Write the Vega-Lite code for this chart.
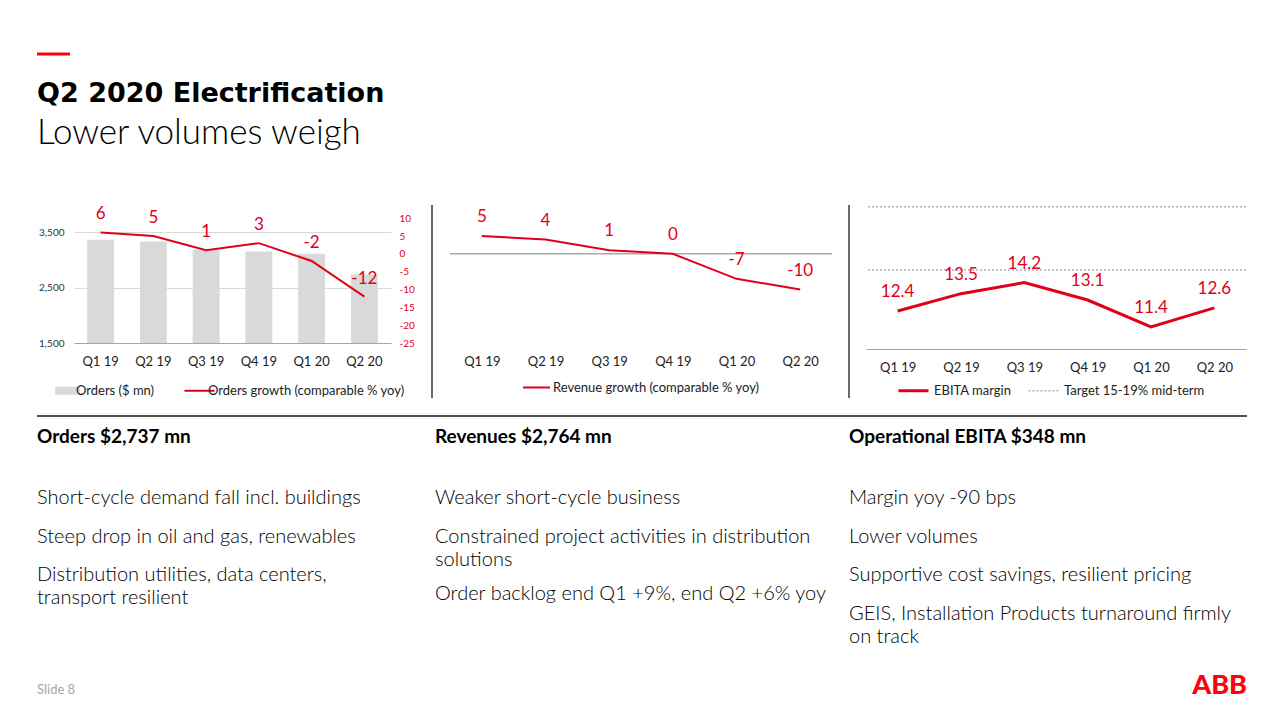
{
  "$schema": "https://vega.github.io/schema/vega-lite/v6.json",
  "padding": {"left": 35, "top": 52, "right": 0, "bottom": 0},
  "background": "white",
  "config": {
    "font": "Lato",
    "view": {"stroke": null},
    "axis": {"labelFont": "Lato", "titleFont": "Lato", "ticks": false, "domain": false, "grid": false, "title": null},
    "legend": {"labelFont": "Lato", "labelLimit": 400, "layout": {"anchor": "middle", "bounds": "flush"}},
    "title": {"font": "Lato", "subtitleFont": "Lato"}
  },
  "datasets": {
    "quarters": [
      {"q": "Q1 19", "orders": 3368, "growth": 6, "revenue": 5, "ebita": 12.4},
      {"q": "Q2 19", "orders": 3337, "growth": 5, "revenue": 4, "ebita": 13.5},
      {"q": "Q3 19", "orders": 3187, "growth": 1, "revenue": 1, "ebita": 14.2},
      {"q": "Q4 19", "orders": 3156, "growth": 3, "revenue": 0, "ebita": 13.1},
      {"q": "Q1 20", "orders": 3115, "growth": -2, "revenue": -7, "ebita": 11.4},
      {"q": "Q2 20", "orders": 2737, "growth": -12, "revenue": -10, "ebita": 12.6}
    ],
    "target": [{"t": 15}, {"t": 19}],
    "bullets": [
      {"col": 1, "slot": 0, "text": "Short-cycle demand fall incl. buildings"},
      {"col": 1, "slot": 2, "text": "Steep drop in oil and gas, renewables"},
      {"col": 1, "slot": 4, "text": "Distribution utilities, data centers,\ntransport resilient"},
      {"col": 2, "slot": 0, "text": "Weaker short-cycle business"},
      {"col": 2, "slot": 2, "text": "Constrained project activities in distribution\nsolutions"},
      {"col": 2, "slot": 5, "text": "Order backlog end Q1 +9%, end Q2 +6% yoy"},
      {"col": 3, "slot": 0, "text": "Margin yoy -90 bps"},
      {"col": 3, "slot": 2, "text": "Lower volumes"},
      {"col": 3, "slot": 4, "text": "Supportive cost savings, resilient pricing"},
      {"col": 3, "slot": 6, "text": "GEIS, Installation Products turnaround firmly\non track"}
    ]
  },
  "columns": 1,
  "align": "none",
  "spacing": 24,
  "concat": [
    {
      "width": 33, "height": 2,
      "data": {"values": [{"s": 0}]},
      "mark": {"type": "rule", "color": "#ff000f", "strokeWidth": 3},
      "encoding": {"y": {"field": "s", "type": "quantitative", "scale": {"domain": [0, 1]}, "axis": null}}
    },
    {
      "columns": 1,
      "align": "none",
      "spacing": 11,
      "concat": [
        {
          "title": {
            "text": "Q2 2020 Electrification",
            "subtitle": "Lower volumes weigh",
            "anchor": "start",
            "font": "DejaVu Sans",
            "fontSize": 27, "fontWeight": "bold", "color": "#000000",
            "subtitleFont": "Lato",
            "subtitleFontSize": 35, "subtitleFontWeight": 300, "subtitleColor": "#000000",
            "subtitlePadding": 8,
            "offset": 52
          },
          "spacing": 0,
          "resolve": {"scale": {"color": "independent"}},
          "hconcat": [
            {
              "width": 1, "height": 138,
              "data": {"values": []},
              "mark": {"type": "text"}
            },
            {
              "width": 317, "height": 138,
              "data": {"name": "quarters"},
              "layer": [
                {
                  "mark": {"type": "bar"},
                  "encoding": {
                    "x": {"field": "q", "type": "nominal", "sort": null,
                          "scale": {"paddingInner": 0.49, "paddingOuter": 0.25},
                          "axis": {"labelAngle": 0, "labelFontSize": 13, "labelColor": "#222222", "labelPadding": 12, "domain": true, "domainColor": "#a6a6a6"}},
                    "y": {"field": "orders", "type": "quantitative",
                          "scale": {"domain": [1500, 3995], "nice": false, "zero": false},
                          "axis": {"values": [1500, 2500, 3500], "labelExpr": "format(datum.value, ',')", "labelFontSize": 10, "labelColor": "#333333", "labelPadding": 10, "grid": true, "gridColor": "#d9d9d9"}},
                    "y2": {"datum": 1500},
                    "color": {
                      "datum": "Orders ($ mn)",
                      "scale": {"domain": ["Orders ($ mn)", "Orders growth (comparable % yoy)"], "range": ["#d9d9d9", "#e0001b"]},
                      "legend": {
                        "orient": "bottom", "title": null, "direction": "horizontal",
                        "symbolSize": 900, "labelFontSize": 13, "labelColor": "#222222",
                        "labelOffset": 2, "columnPadding": 25, "offset": 16,
                        "encode": {"symbols": {"update": {
                          "shape": {"signal": "datum.value === 'Orders ($ mn)' ? 'M-0.83,-0.27H0.83V0.27H-0.83Z' : 'M-1,0H1'"},
                          "fill": {"signal": "datum.value === 'Orders ($ mn)' ? '#d9d9d9' : 'transparent'"},
                          "stroke": {"signal": "datum.value === 'Orders ($ mn)' ? 'transparent' : '#e0001b'"},
                          "strokeWidth": {"signal": "datum.value === 'Orders ($ mn)' ? 0 : 2"}
                        }}}
                      }
                    }
                  }
                },
                {
                  "mark": {"type": "line", "strokeWidth": 2},
                  "encoding": {
                    "x": {"field": "q", "type": "nominal", "sort": null},
                    "y": {"field": "growth", "type": "quantitative",
                          "scale": {"domain": [-25, 13.7], "nice": false, "zero": false},
                          "axis": {"orient": "right", "values": [-25, -20, -15, -10, -5, 0, 5, 10], "labelExpr": "'' + datum.value", "labelFontSize": 10, "labelColor": "#e0001b", "labelPadding": 8}},
                    "color": {"datum": "Orders growth (comparable % yoy)"}
                  }
                },
                {
                  "mark": {"type": "text", "dy": -18, "fontSize": 17, "color": "#e0001b"},
                  "encoding": {
                    "x": {"field": "q", "type": "nominal", "sort": null},
                    "y": {"field": "growth", "type": "quantitative", "scale": {"domain": [-25, 13.7], "nice": false, "zero": false}, "axis": null},
                    "text": {"field": "growth", "type": "nominal"}
                  }
                }
              ],
              "resolve": {"scale": {"y": "independent"}}
            },
            {
              "width": 34, "height": 193,
              "data": {"values": [{"s": 0.5}]},
              "mark": {"type": "rule", "color": "#1a1a1a", "strokeWidth": 1.3},
              "encoding": {"x": {"field": "s", "type": "quantitative", "scale": {"domain": [0, 1]}, "axis": null}}
            },
            {
              "width": 382, "height": 138,
              "data": {"name": "quarters"},
              "layer": [
                {
                  "data": {"values": [{"base": 0}]},
                  "mark": {"type": "rule", "color": "#808080", "strokeWidth": 1},
                  "encoding": {"y": {"field": "base", "type": "quantitative", "scale": {"domain": [-25, 13.7], "nice": false, "zero": false}, "axis": null}}
                },
                {
                  "mark": {"type": "line", "strokeWidth": 2},
                  "encoding": {
                    "x": {"field": "q", "type": "nominal", "sort": null,
                          "axis": {"labelAngle": 0, "labelFontSize": 13, "labelColor": "#222222", "labelPadding": 12}},
                    "y": {"field": "revenue", "type": "quantitative", "axis": null},
                    "color": {
                      "datum": "Revenue growth (comparable % yoy)",
                      "scale": {"domain": ["Revenue growth (comparable % yoy)"], "range": ["#e0001b"]},
                      "legend": {"orient": "bottom", "title": null, "symbolType": "stroke", "symbolSize": 729, "symbolStrokeWidth": 2, "labelFontSize": 13, "labelColor": "#222222", "labelOffset": 2, "offset": 5}
                    }
                  }
                },
                {
                  "mark": {"type": "text", "dy": -19, "fontSize": 17, "color": "#e0001b"},
                  "encoding": {
                    "x": {"field": "q", "type": "nominal", "sort": null},
                    "y": {"field": "revenue", "type": "quantitative", "axis": null},
                    "text": {"field": "revenue", "type": "nominal"}
                  }
                }
              ]
            },
            {
              "width": 32, "height": 193,
              "data": {"values": [{"s": 0.5}]},
              "mark": {"type": "rule", "color": "#1a1a1a", "strokeWidth": 1.3},
              "encoding": {"x": {"field": "s", "type": "quantitative", "scale": {"domain": [0, 1]}, "axis": null}}
            },
            {
              "width": 380, "height": 144,
              "data": {"name": "quarters"},
              "layer": [
                {
                  "data": {"name": "target"},
                  "mark": {"type": "rule", "strokeDash": [2, 2], "strokeWidth": 1.5},
                  "encoding": {
                    "y": {"field": "t", "type": "quantitative", "scale": {"domain": [10, 19.11], "nice": false, "zero": false}, "axis": null},
                    "color": {
                      "datum": "Target 15-19% mid-term",
                      "scale": {"domain": ["EBITA margin", "Target 15-19% mid-term"], "range": ["#e0001b", "#b3b3b3"]},
                      "legend": {
                        "orient": "bottom", "title": null, "direction": "horizontal", "symbolType": "stroke",
                        "symbolSize": 900, "labelFontSize": 13, "labelColor": "#222222", "labelOffset": 14,
                        "columnPadding": 13, "offset": 10,
                        "encode": {"symbols": {"update": {
                          "strokeDash": {"signal": "datum.value === 'EBITA margin' ? [] : [2, 2]"},
                          "strokeWidth": {"signal": "datum.value === 'EBITA margin' ? 3 : 1.5"}
                        }}}
                      }
                    }
                  }
                },
                {
                  "mark": {"type": "line", "strokeWidth": 3},
                  "encoding": {
                    "x": {"field": "q", "type": "nominal", "sort": null,
                          "axis": {"labelAngle": 0, "labelFontSize": 13, "labelColor": "#222222", "labelPadding": 12, "domain": true, "domainColor": "#a6a6a6"}},
                    "y": {"field": "ebita", "type": "quantitative", "axis": null},
                    "color": {"datum": "EBITA margin"}
                  }
                },
                {
                  "mark": {"type": "text", "dy": -19, "fontSize": 17, "color": "#e0001b"},
                  "encoding": {
                    "x": {"field": "q", "type": "nominal", "sort": null},
                    "y": {"field": "ebita", "type": "quantitative", "axis": null},
                    "text": {"field": "ebita", "type": "nominal"}
                  }
                }
              ]
            }
          ]
        },
        {
          "width": 1210, "height": 6,
          "data": {"values": [{"s": 0}]},
          "mark": {"type": "rule", "color": "#1a1a1a", "strokeWidth": 1.3},
          "encoding": {"y": {"field": "s", "type": "quantitative", "scale": {"domain": [0, 1]}, "axis": null}}
        },
        {
          "spacing": 16,
          "hconcat": [
            {
              "width": 382, "height": 115.5,
              "title": {"text": "Orders $2,737 mn", "anchor": "start", "fontSize": 19, "fontWeight": "bold", "color": "#000000", "offset": 41},
              "data": {"name": "bullets"},
              "transform": [{"filter": "datum.col === 1"}],
              "mark": {"type": "text", "align": "left", "baseline": "top", "fontSize": 20, "fontWeight": 300, "color": "#000000", "lineBreak": "\n", "lineHeight": 23},
              "encoding": {
                "x": {"datum": 0, "type": "quantitative", "scale": {"domain": [0, 1]}, "axis": null},
                "y": {"field": "slot", "type": "ordinal", "scale": {"type": "point", "domain": [0, 1, 2, 3, 4, 5, 6], "padding": 0}, "axis": null},
                "text": {"field": "text"}
              }
            },
            {
              "width": 398, "height": 115.5,
              "title": {"text": "Revenues $2,764 mn", "anchor": "start", "fontSize": 19, "fontWeight": "bold", "color": "#000000", "offset": 41},
              "data": {"name": "bullets"},
              "transform": [{"filter": "datum.col === 2"}],
              "mark": {"type": "text", "align": "left", "baseline": "top", "fontSize": 20, "fontWeight": 300, "color": "#000000", "lineBreak": "\n", "lineHeight": 23},
              "encoding": {
                "x": {"datum": 0, "type": "quantitative", "scale": {"domain": [0, 1]}, "axis": null},
                "y": {"field": "slot", "type": "ordinal", "scale": {"type": "point", "domain": [0, 1, 2, 3, 4, 5, 6], "padding": 0}, "axis": null},
                "text": {"field": "text"}
              }
            },
            {
              "width": 398, "height": 115.5,
              "title": {"text": "Operational EBITA $348 mn", "anchor": "start", "fontSize": 19, "fontWeight": "bold", "color": "#000000", "offset": 41},
              "data": {"name": "bullets"},
              "transform": [{"filter": "datum.col === 3"}],
              "mark": {"type": "text", "align": "left", "baseline": "top", "fontSize": 20, "fontWeight": 300, "color": "#000000", "lineBreak": "\n", "lineHeight": 23},
              "encoding": {
                "x": {"datum": 0, "type": "quantitative", "scale": {"domain": [0, 1]}, "axis": null},
                "y": {"field": "slot", "type": "ordinal", "scale": {"type": "point", "domain": [0, 1, 2, 3, 4, 5, 6], "padding": 0}, "axis": null},
                "text": {"field": "text"}
              }
            }
          ]
        },
        {
          "width": 1210, "height": 36,
          "layer": [
            {
              "data": {"values": [{"label": "Slide 8"}]},
              "mark": {"type": "text", "align": "left", "baseline": "alphabetic", "fontSize": 13, "color": "#a6a6a6"},
              "encoding": {
                "x": {"datum": 0, "type": "quantitative", "scale": {"domain": [0, 1]}, "axis": null},
                "y": {"datum": 0, "type": "quantitative", "scale": {"domain": [0, 1]}, "axis": null},
                "text": {"field": "label"}
              }
            },
            {
              "data": {"values": [{"label": "ABB"}]},
              "mark": {"type": "text", "align": "right", "baseline": "alphabetic", "fontSize": 27, "fontWeight": 900, "color": "#ff000f"},
              "encoding": {
                "x": {"datum": 1, "type": "quantitative", "scale": {"domain": [0, 1]}, "axis": null},
                "y": {"datum": 0, "type": "quantitative", "scale": {"domain": [0, 1]}, "axis": null},
                "text": {"field": "label"}
              }
            }
          ]
        }
      ]
    }
  ]
}
